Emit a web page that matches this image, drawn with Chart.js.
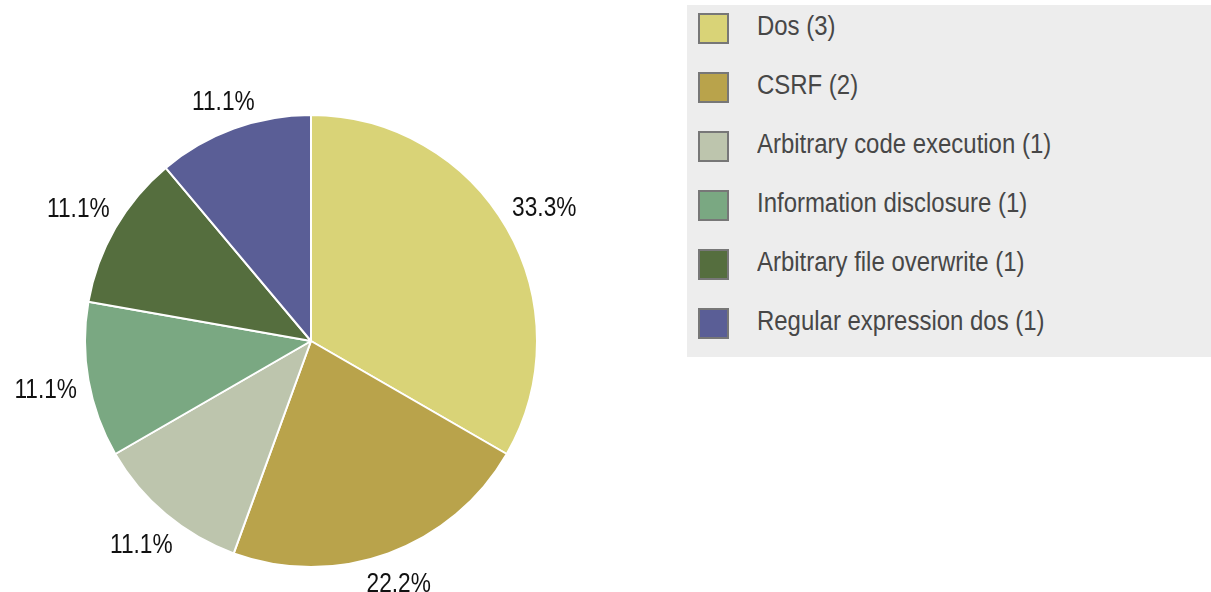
<!DOCTYPE html>
<html>
<head>
<meta charset="utf-8">
<script src="https://cdn.jsdelivr.net/npm/chart.js@4/dist/chart.umd.min.js"></script>
<style>
  html, body { margin: 0; padding: 0; background: #fff; }
  body { width: 1211px; height: 592px; position: relative; overflow: hidden; font-family: "Liberation Sans", sans-serif; }
  #wrap { position: absolute; left: 0; top: 0; width: 622px; height: 592px; }
  #legend { position: absolute; left: 687px; top: 5px; width: 524px; height: 352px; background: #ededed; }
  .item { position: absolute; left: 11px; height: 31px; }
  .box { position: absolute; left: 0; top: 0; width: 27px; height: 27px; border: 2px solid #777; }
  .txt { position: absolute; left: 59px; top: -2px; white-space: nowrap; font-size: 27px; line-height: 30px; color: #474747; transform: scaleX(0.887); transform-origin: 0 0; }
</style>
</head>
<body>
<div id="wrap"><canvas id="pie_chart"></canvas></div>
<div id="legend"></div>
<script>
const categories = ["Dos", "CSRF", "Arbitrary code execution", "Information disclosure", "Arbitrary file overwrite", "Regular expression dos"];
const counts = [3, 2, 1, 1, 1, 1];
const colours = ["#d9d377", "#b9a34b", "#bdc5ad", "#7aa882", "#556e3e", "#5a5e96"];

const total = counts.reduce((a, b) => a + b, 0);

// html legend with grey background
const legend = document.getElementById("legend");
categories.forEach((name, i) => {
    const item = document.createElement("div");
    item.className = "item";
    item.style.top = (8 + i * 58.9) + "px";
    const box = document.createElement("div");
    box.className = "box";
    box.style.background = colours[i];
    const txt = document.createElement("div");
    txt.className = "txt";
    txt.textContent = name + " (" + counts[i] + ")";
    item.appendChild(box);
    item.appendChild(txt);
    legend.appendChild(item);
});

// percent labels outside the slices (narrowed to look like a condensed face)
const outside_labels = {
    id: "outside_labels",
    afterDatasetsDraw(chart) {
        const ctx = chart.ctx;
        const meta = chart.getDatasetMeta(0);
        const sx = 0.84;
        ctx.save();
        ctx.font = "27px 'Liberation Sans', sans-serif";
        ctx.fillStyle = "#111";
        ctx.textAlign = "center";
        ctx.textBaseline = "alphabetic";
        meta.data.forEach((arc, i) => {
            const p = arc.getProps(["x", "y", "startAngle", "endAngle", "outerRadius"], true);
            const mid = (p.startAngle + p.endAngle) / 2;
            const text = (counts[i] / total * 100).toFixed(1) + "%";
            const hw = ctx.measureText(text).width * sx / 2;
            const hh = 9;
            const r = p.outerRadius + 11 + Math.abs(Math.cos(mid)) * hw + Math.abs(Math.sin(mid)) * hh;
            const cx = p.x + Math.cos(mid) * r;
            const cy = p.y + Math.sin(mid) * r;
            ctx.save();
            ctx.translate(cx, cy + 10);
            ctx.scale(sx, 1);
            ctx.fillText(text, 0, 0);
            ctx.restore();
        });
        ctx.restore();
    }
};

const pie_chart = new Chart("pie_chart",
{
    type: "pie",
    data:
    {
        labels: categories,
        datasets:
        [
            {
                data: counts,
                backgroundColor: colours,
                borderColor: "#ffffff",
                borderWidth: 2
            }
        ]
    },
    options:
    {
        animation: false,
        responsive: true,
        maintainAspectRatio: false,
        layout:
        {
            padding: { top: 114, bottom: 24, left: 0, right: 0 }
        },
        plugins:
        {
            legend: { display: false },
            tooltip: { enabled: false }
        }
    },
    plugins: [outside_labels]
});
</script>
</body>
</html>
